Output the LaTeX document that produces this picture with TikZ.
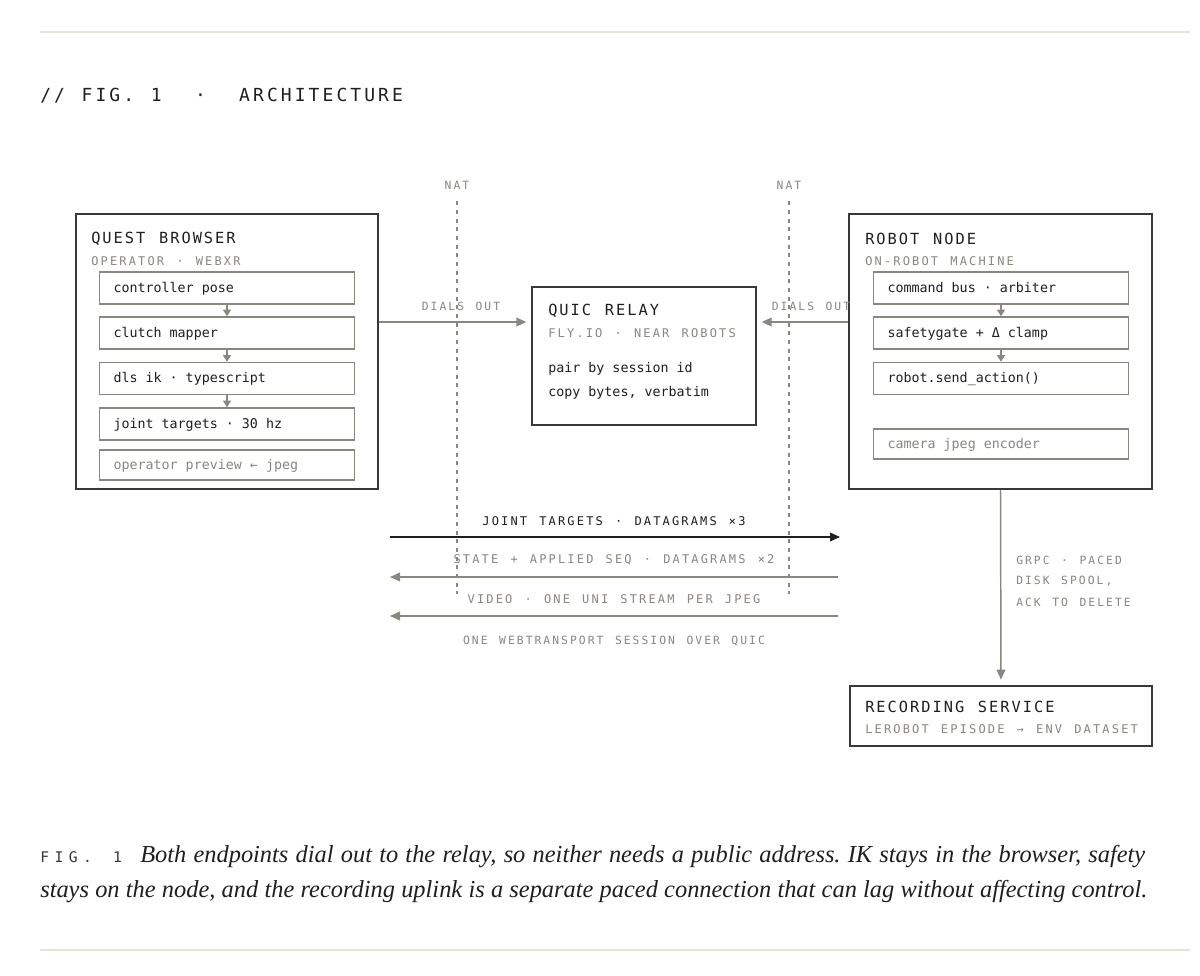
\documentclass[tikz,border=0pt]{standalone}
\usepackage{fontspec}
\usetikzlibrary{arrows.meta,fit,positioning}
\setmonofont{DejaVu Sans Mono}
\newfontfamily\headfont[LetterSpace=17,WordSpace=1.2]{DejaVu Sans Mono}
\newfontfamily\titlefont[LetterSpace=13,WordSpace=1.22]{DejaVu Sans Mono}
\newfontfamily\tagfont[LetterSpace=18,WordSpace=1.3]{DejaVu Sans Mono}
\newfontfamily\figfont[LetterSpace=37,WordSpace=1.5]{DejaVu Sans Mono}
\newfontfamily\captionfont{Liberation Serif}
\definecolor{ink}{HTML}{1F1F1F}
\definecolor{frame}{HTML}{383838}
\definecolor{mute}{HTML}{8A8680}
\definecolor{hair}{HTML}{E6E3DA}

\begin{document}
\begin{tikzpicture}[x=0.75pt, y=-0.75pt,
  outer/.style={draw=frame, line width=1.5pt, inner sep=0pt},
  inbox/.style={draw=mute, line width=1.1pt, inner xsep=10.5pt, inner ysep=0pt,
    minimum height=24pt, text height=8pt, text depth=2pt,
    execute at begin node={\hbox to 170.25pt\bgroup}, execute at end node={\hfil\egroup},
    font=\ttfamily\fontsize{10pt}{12pt}\selectfont, text=ink},
  title/.style={anchor=west, inner sep=0pt, text=ink, font=\titlefont\fontsize{11.5pt}{14pt}\selectfont},
  sub/.style={anchor=west, inner sep=0pt, text=mute, font=\tagfont\fontsize{9pt}{12pt}\selectfont},
  tag/.style={inner sep=0pt, text=mute, font=\tagfont\fontsize{8.5pt}{15.75pt}\selectfont},
  body/.style={anchor=base west, inner sep=0pt, text=ink, font=\ttfamily\fontsize{10pt}{12pt}\selectfont},
  link/.style={draw=mute, line width=1.1pt, -{Triangle[length=7.5pt,width=6.5pt]}},
  hop/.style={draw=mute, line width=1.1pt, -{Triangle[length=5pt,width=6pt]}},
  nat/.style={draw=mute, line width=0.9pt, dash pattern=on 3pt off 3.5pt},
  caption/.style={anchor=base west, inner sep=0pt, text=ink, font=\captionfont\itshape\fontsize{18.3pt}{22pt}\selectfont\frenchspacing},
]
\fill[white] (0,0) rectangle (1200,975);
\useasboundingbox (0,0) rectangle (1200,975);
% --- Rules and heading ---
\draw[hair, line width=0.9pt] (40,32) -- (1190,32);
\draw[hair, line width=0.9pt] (40,950) -- (1190,950);
\node[anchor=west, inner sep=0pt, text=ink, font=\headfont\fontsize{13.5pt}{16pt}\selectfont] (head) at (40,96) {//~FIG.~1~~·~~ARCHITECTURE};
%
% --- NAT boundaries ---
\node[tag] (natL) at (457,185) {NAT};
\node[tag] (natR) at (789,185) {NAT};
\coordinate (natLend) at (457,594);
\coordinate (natRend) at (789,594);
\draw[nat] (natL.south) ++(0,12) -- (natLend);
\draw[nat] (natR.south) ++(0,12) -- (natRend);
%
% --- Quest browser ---
\node[outer, fit={(76,214) (378,489)}] (quest) {};
\node[title] (questT) at (91,239) {QUEST BROWSER};
\node[sub] (questS) at (91,261) {OPERATOR · WEBXR};
\node[inbox] (pose) at (227,288) {controller pose};
\node[inbox] (clutch) at (227,333) {clutch mapper};
\node[inbox] (ik) at (227,378.5) {dls ik · typescript};
\node[inbox] (joints) at (227,424) {joint targets · 30 hz};
\node[inbox, minimum height=22.5pt, text=mute] (preview) at (227,465) {operator preview ← jpeg};
\draw[hop] (pose) -- (clutch);
\draw[hop] (clutch) -- (ik);
\draw[hop] (ik) -- (joints);
%
% --- Relay ---
\node[outer, fit={(532,287) (756,425)}] (relay) {};
\node[title] (relayT) at (548,311) {QUIC RELAY};
\node[sub] (relayS) at (548,333) {FLY.IO · NEAR ROBOTS};
\node[body] (pair) at (548,372) {pair by session id};
\node[body] (copy) at (548,396) {copy bytes, verbatim};
%
% --- Robot node ---
\node[outer, fit={(849,214) (1152,489)}] (robot) {};
\node[title] (robotT) at (865,239) {ROBOT NODE};
\node[sub] (robotS) at (865,261) {ON-ROBOT MACHINE};
\node[inbox] (bus) at (1001,288) {command bus · arbiter};
\node[inbox] (gate) at (1001,333) {safetygate + Δ clamp};
\node[inbox] (send) at (1001,378.5) {robot.send\_action()};
\node[inbox, minimum height=22.5pt, text=mute] (camera) at (1001,444) {camera jpeg encoder};
\draw[hop] (bus) -- (gate);
\draw[hop] (gate) -- (send);
%
% --- Dial out ---
\coordinate (dial) at (0,322);
\draw[link, shorten >=3.5pt] (quest.east |- dial) -- (relay.west |- dial);
\draw[link, shorten >=3.5pt] (robot.west |- dial) -- (relay.east |- dial);
\node[tag] (dialL) at (461,306) {DIALS OUT};
\node[tag] (dialR) at (811,306) {DIALS OUT};
%
% --- WebTransport lanes ---
\coordinate (jtL) at (390,537);   \coordinate (jtR) at (840,537);
\coordinate (stL) at (390,577);   \coordinate (stR) at (838,577);
\coordinate (vdL) at (390,616);   \coordinate (vdR) at (838,616);
\draw[link, draw=ink] (jtL) -- (jtR);
\draw[link] (stR) -- (stL);
\draw[link] (vdR) -- (vdL);
\node[tag, text=ink, font=\tagfont\fontsize{9pt}{12pt}\selectfont] (jtT) at (614,521) {JOINT TARGETS · DATAGRAMS ×3};
\node[tag, font=\tagfont\fontsize{9pt}{12pt}\selectfont] (stT) at (614,560) {STATE + APPLIED SEQ · DATAGRAMS ×2};
\node[tag, font=\tagfont\fontsize{9pt}{12pt}\selectfont] (vdT) at (614,599) {VIDEO · ONE UNI STREAM PER JPEG};
\node[tag] (session) at (614,641) {ONE WEBTRANSPORT SESSION OVER QUIC};
%
% --- Recording ---
\node[outer, fit={(850,686) (1152,746)}] (rec) {};
\node[title] (recT) at (865,707) {RECORDING SERVICE};
\node[sub] (recS) at (865,729) {LEROBOT EPISODE → ENV DATASET};
\draw[link, shorten >=4pt] (robot.south) -- (rec.north);
\node[tag, anchor=west] (grpc1) at (1016,560) {GRPC · PACED};
\node[tag, anchor=west] (grpc2) at (1016,581) {DISK SPOOL,};
\node[tag, anchor=west] (grpc3) at (1016,602) {ACK TO DELETE};
%
% --- Caption ---
\node[anchor=base west, inner sep=0pt, text=frame, font=\figfont\fontsize{11pt}{12pt}\selectfont] (fig) at (40,862) {FIG. 1};
\node[caption] (cap1) at (140,862) {\makebox[753.75pt][s]{Both endpoints dial out to the relay, so neither needs a public address. IK stays in the browser, safety}};
\node[caption] (cap2) at (40,897) {\makebox[830.25pt][s]{stays on the node, and the recording uplink is a separate paced connection that can lag without affecting control.}};
\end{tikzpicture}
\end{document}
